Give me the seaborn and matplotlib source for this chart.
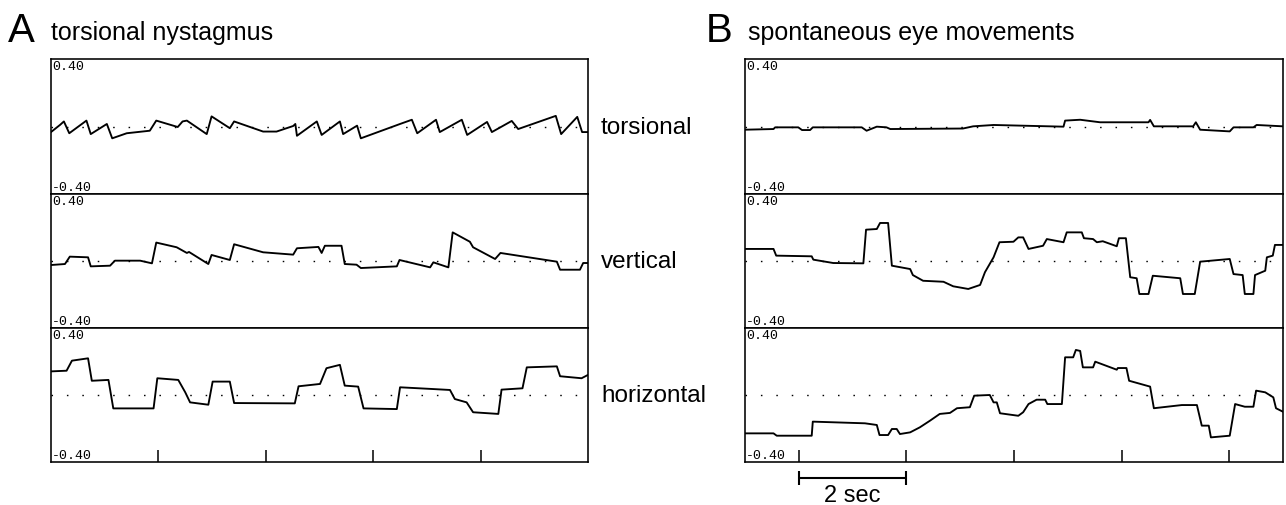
import matplotlib
matplotlib.use("Agg")
import matplotlib.pyplot as plt
import seaborn as sns
import pandas as pd

# ---------------- data (time in s, position in arbitrary units) ----------------
a_tor_t = [0, 0.17, 0.24, 0.34, 0.66, 0.74, 1.04, 1.14, 1.41, 1.84, 1.96, 2.36, 2.45, 2.53, 2.90, 2.99,
           3.33, 3.41, 3.95, 4.20, 4.51, 4.55, 4.58, 4.95, 5.04, 5.38, 5.44, 5.70, 5.77, 6.50, 6.72, 6.82,
           7.17, 7.24, 7.65, 7.75, 8.12, 8.21, 8.58, 8.70, 9.40, 9.50, 9.80, 9.89, 10.0]
a_tor_v = [-0.033, 0.01, 0.03, -0.04, 0.035, -0.045, 0.015, -0.07, -0.04, -0.025, 0.035, -0.003, 0.03, 0.035,
           -0.045, 0.06, -0.01, 0.03, -0.03, -0.03, 0.003, 0.015, -0.055, 0.03, -0.05, 0.03, -0.045, 0.005,
           -0.07, 0.015, 0.04, -0.04, 0.04, -0.033, 0.04, -0.05, 0.027, -0.033, 0.033, -0.015, 0.063, -0.045,
           0.057, -0.033, -0.033]

a_ver_t = [0, 0.26, 0.35, 0.69, 0.74, 1.10, 1.19, 1.66, 1.88, 1.96, 2.34, 2.53, 2.57, 2.93, 2.99, 3.33,
           3.41, 3.95, 4.51, 4.58, 4.98, 5.04, 5.10, 5.41, 5.47, 5.69, 5.77, 6.44, 6.49, 7.06, 7.12, 7.40,
           7.48, 7.80, 7.86, 8.27, 8.37, 9.42, 9.48, 9.85, 9.91, 10.0]
a_ver_v = [-0.024, -0.018, 0.026, 0.022, -0.032, -0.028, 0.002, 0.002, -0.014, 0.11, 0.082, 0.048, 0.054,
           -0.018, 0.036, 0.006, 0.10, 0.052, 0.038, 0.076, 0.084, 0.048, 0.091, 0.091, -0.018, -0.022,
           -0.042, -0.032, 0.006, -0.038, -0.008, -0.038, 0.171, 0.115, 0.082, 0.012, 0.048, -0.004,
           -0.052, -0.052, -0.012, -0.012]

a_hor_t = [0, 0.29, 0.39, 0.69, 0.76, 1.07, 1.16, 1.91, 1.98, 2.37, 2.50, 2.59, 2.93, 3.01, 3.33, 3.41,
           4.54, 4.61, 5.01, 5.13, 5.38, 5.47, 5.72, 5.82, 6.44, 6.50, 7.09, 7.43, 7.52, 7.74, 7.86, 8.33,
           8.39, 8.78, 8.86, 9.42, 9.48, 9.88, 10.0]
a_hor_v = [0.141, 0.145, 0.205, 0.219, 0.085, 0.09, -0.08, -0.08, 0.10, 0.09, 0.016, -0.044, -0.058, 0.08,
           0.08, -0.048, -0.05, 0.052, 0.066, 0.16, 0.18, 0.056, 0.05, -0.08, -0.084, 0.046, 0.036, 0.03,
           -0.024, -0.044, -0.103, -0.113, 0.032, 0.04, 0.165, 0.171, 0.112, 0.10, 0.12]

b_tor_t = [0, 0.53, 0.56, 0.99, 1.06, 1.21, 1.26, 2.17, 2.26, 2.45, 2.63, 2.70, 4.05, 4.24, 4.62, 5.92,
           5.95, 6.23, 6.60, 7.50, 7.53, 7.60, 8.33, 8.38, 8.46, 9.01, 9.08, 9.45, 9.51, 10.0]
b_tor_v = [-0.019, -0.015, -0.005, -0.005, -0.021, -0.021, -0.005, -0.005, -0.025, -0.001, -0.005, -0.015,
           -0.012, 0.001, 0.009, -0.001, 0.035, 0.04, 0.025, 0.025, 0.039, 0.001, 0.001, 0.025, -0.019,
           -0.029, -0.005, -0.005, 0.009, 0.001]

b_ver_t = [0, 0.53, 0.58, 1.24, 1.27, 1.64, 2.20, 2.25, 2.45, 2.51, 2.66, 2.73, 3.07, 3.12, 3.31, 3.69,
           3.87, 4.15, 4.37, 4.46, 4.62, 4.73, 4.99, 5.08, 5.17, 5.27, 5.54, 5.61, 5.92, 5.98, 6.26, 6.30,
           6.47, 6.54, 6.65, 6.91, 6.95, 7.08, 7.16, 7.28, 7.33, 7.50, 7.58, 8.09, 8.14, 8.36, 8.46, 9.01,
           9.08, 9.25, 9.29, 9.45, 9.48, 9.67, 9.70, 9.81, 9.85, 10.0]
b_ver_v = [0.072, 0.072, 0.032, 0.028, 0.008, -0.012, -0.014, 0.187, 0.191, 0.227, 0.227, -0.028, -0.048,
           -0.084, -0.118, -0.124, -0.151, -0.167, -0.143, -0.067, 0.022, 0.112, 0.115, 0.141, 0.141, 0.072,
           0.091, 0.131, 0.112, 0.171, 0.171, 0.136, 0.131, 0.112, 0.118, 0.088, 0.136, 0.136, -0.097,
           -0.103, -0.197, -0.197, -0.088, -0.103, -0.197, -0.197, -0.004, 0.012, -0.078, -0.084, -0.197,
           -0.197, -0.084, -0.058, 0.022, 0.032, 0.096, 0.096]

b_hor_t = [0, 0.53, 0.59, 1.24, 1.26, 2.23, 2.45, 2.50, 2.66, 2.73, 2.82, 2.88, 3.07, 3.25, 3.44, 3.62,
           3.81, 3.94, 4.18, 4.26, 4.55, 4.62, 4.68, 4.74, 5.08, 5.17, 5.27, 5.42, 5.58, 5.62, 5.89, 5.95,
           6.10, 6.15, 6.23, 6.28, 6.47, 6.51, 6.91, 6.93, 7.09, 7.14, 7.53, 7.60, 8.12, 8.40, 8.49, 8.62,
           8.66, 9.01, 9.11, 9.29, 9.45, 9.50, 9.67, 9.82, 9.87, 10.0]
b_hor_v = [-0.229, -0.229, -0.243, -0.243, -0.159, -0.169, -0.179, -0.239, -0.239, -0.203, -0.203, -0.233,
           -0.223, -0.193, -0.153, -0.113, -0.107, -0.079, -0.073, -0.004, 0.0, -0.044, -0.044, -0.109,
           -0.124, -0.103, -0.054, -0.028, -0.028, -0.054, -0.054, 0.225, 0.225, 0.269, 0.263, 0.165,
           0.165, 0.199, 0.151, 0.161, 0.161, 0.085, 0.05, -0.079, -0.06, -0.06, -0.183, -0.183, -0.253,
           -0.243, -0.054, -0.07, -0.07, 0.026, 0.016, -0.014, -0.079, -0.10]

channel_labels = ["torsional", "vertical", "horizontal"]
panel_letters = ["A", "B"]
panel_titles = ["torsional nystagmus", "spontaneous eye movements"]
ylim = (-0.40, 0.40)
ytop_label = "0.40"
ybot_label = "-0.40"
ticks_a = [2, 4, 6, 8]
ticks_b = [1, 3, 5, 7, 9]
scale_bar = (1, 3)
scale_label = "2 sec"

traces = {
    "A": [(a_tor_t, a_tor_v), (a_ver_t, a_ver_v), (a_hor_t, a_hor_v)],
    "B": [(b_tor_t, b_tor_v), (b_ver_t, b_ver_v), (b_hor_t, b_hor_v)],
}

# ---------------- style ----------------
sns.set_theme(style="white")
plt.rcParams["font.family"] = ["Liberation Sans", "DejaVu Sans"]
plt.rcParams["axes.linewidth"] = 1.1

W, H = 1286, 506
fig = plt.figure(figsize=(W / 100, H / 100), dpi=100)

lefts = {"A": 51, "B": 745}
rights = {"A": 588, "B": 1283}
edges = [60, 195, 329, 463]

mono = ["Liberation Mono", "DejaVu Sans Mono"]

for p, letter in enumerate(panel_letters):
    axes = []
    for r in range(3):
        x0 = lefts[letter] / W
        w = (rights[letter] - lefts[letter]) / W
        y0 = (H - edges[r + 1]) / H
        h = (edges[r + 1] - edges[r]) / H
        ax = fig.add_axes([x0, y0, w, h])
        t, v = traces[letter][r]
        df = pd.DataFrame({"t": t, "v": v})
        sns.lineplot(data=df, x="t", y="v", ax=ax, sort=False, estimator=None,
                     color="black", linewidth=1.35)
        ax.axhline(0, color="black", linewidth=1.0, linestyle=(0, (1.1, 10)))
        ax.set_xlim(0, 10)
        ax.set_ylim(*ylim)
        ax.set_xlabel("")
        ax.set_ylabel("")
        ax.set_yticks([])
        for s in ax.spines.values():
            s.set_visible(True)
            s.set_color("black")
            s.set_linewidth(1.15)
        if r == 2:
            ax.set_xticks(ticks_a if letter == "A" else ticks_b)
            ax.tick_params(axis="x", direction="in", length=8.6, width=1.1,
                           labelbottom=False, bottom=True, color="black")
        else:
            ax.set_xticks([])
        ax.text(0.002, 0.99, ytop_label, transform=ax.transAxes, ha="left", va="top",
                fontsize=9.5, family=mono, color="black")
        ax.text(0.002, 0.01, ybot_label, transform=ax.transAxes, ha="left", va="bottom",
                fontsize=9.5, family=mono, color="black")
        if letter == "A":
            ax.text(1.024, 0.5, channel_labels[r], transform=ax.transAxes, ha="left",
                    va="center", fontsize=17.5, color="black")
        axes.append(ax)

    # panel letter and title
    lx = (8 if letter == "A" else 706) / W
    fig.text(lx, (H - 42) / H, letter, fontsize=29, ha="left", va="baseline", color="black")
    tx = (51 if letter == "A" else 748) / W
    fig.text(tx, (H - 40) / H, panel_titles[p], fontsize=18, ha="left", va="baseline", color="black")

    if letter == "B":
        bax = axes[2]
        tr = bax.get_xaxis_transform()
        yb = (463 - 479) / 134
        bax.plot(list(scale_bar), [yb, yb], transform=tr, color="black", linewidth=1.5,
                 clip_on=False, marker="|", markersize=10, markeredgewidth=1.5)
        bax.text(sum(scale_bar) / 2, (463 - 496) / 134, scale_label, transform=tr,
                 ha="center", va="center", fontsize=17, color="black")

fig.savefig("out.png", dpi=100)
